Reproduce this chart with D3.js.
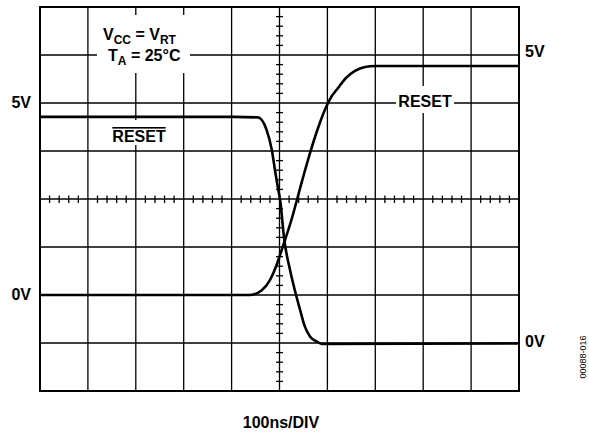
<!DOCTYPE html>
<html>
<head>
<meta charset="utf-8">
<script src="https://cdn.jsdelivr.net/npm/d3@7"></script>
<style>
  body { margin: 0; background: #fff; }
  svg { display: block; }
  text { font-family: "Liberation Sans", Arial, sans-serif; font-weight: bold; fill: #000; }
</style>
</head>
<body>
<div id="root"></div>
<script>
// time in ns (100ns/DIV, centre of screen = 0), level in screen divisions
const fallTime  = [-500, -97, -45, -27, -16, -9.4, -2.5, 1, 10, 22, 32, 43, 53, 64, 78, 89, 500];
const fallLevel = [1.71, 1.71, 1.70, 1.44, 1.02, 0.60, 0.19, 0, -0.85, -1.48, -1.90, -2.31, -2.66, -2.87, -2.97, -3.02, -3.01];

const riseTime  = [-500, -62, -37, -20, -6, 1, 11.5, 26.1, 38.6, 51.1, 63.7, 78.3, 92.9, 105.4, 122.1, 138.8, 157.6, 178.5, 199.4, 500];
const riseLevel = [-2.0, -2.0, -1.90, -1.69, -1.375, -1.17, -0.854, -0.396, 0.063, 0.521, 0.958, 1.417, 1.813, 2.083, 2.313, 2.521, 2.667, 2.75, 2.771, 2.771];

const xDivs = d3.range(-500, 501, 100);
const yDivs = d3.range(-4, 5, 1);

const width = 589, height = 436;
const margin = {top: 7, right: 70, bottom: 45, left: 40};

const svg = d3.select("#root").append("svg")
    .attr("width", width)
    .attr("height", height);

const x = d3.scaleLinear().domain([-500, 500]).range([margin.left, width - margin.right]);
const y = d3.scaleLinear().domain([-4, 4]).range([height - margin.bottom, margin.top]);

// grid
const grid = svg.append("g").attr("stroke", "#000").attr("stroke-width", 1.3);
grid.selectAll("line.v").data(xDivs.slice(1, -1)).enter().append("line")
    .attr("x1", d => x(d)).attr("x2", d => x(d))
    .attr("y1", y(4)).attr("y2", y(-4));
grid.selectAll("line.h").data(yDivs.slice(1, -1)).enter().append("line")
    .attr("y1", d => y(d)).attr("y2", d => y(d))
    .attr("x1", x(-500)).attr("x2", x(500));

// minor ticks on centre axes (5 per division)
const xMinor = d3.range(-500, 500.1, 20).filter(d => d % 100 !== 0);
const yMinor = d3.range(-4, 4.01, 0.2).filter(d => Math.abs(d - Math.round(d)) > 0.01);
grid.selectAll("line.mx").data(xMinor).enter().append("line")
    .attr("x1", d => x(d)).attr("x2", d => x(d))
    .attr("y1", y(0) - 3.5).attr("y2", y(0) + 4);
grid.selectAll("line.my").data(yMinor).enter().append("line")
    .attr("y1", d => y(d)).attr("y2", d => y(d))
    .attr("x1", x(0) - 3.5).attr("x2", x(0) + 3.5);

// white boxes behind in-plot labels
const boxes = [[97, 15, 93, 58], [110, 120, 58, 25], [396, 86, 58, 27]];
svg.selectAll("rect.bg").data(boxes).enter().append("rect")
    .attr("x", d => d[0]).attr("y", d => d[1])
    .attr("width", d => d[2]).attr("height", d => d[3])
    .attr("fill", "#fff");

// frame
svg.append("rect")
    .attr("x", x(-500)).attr("y", y(4))
    .attr("width", x(500) - x(-500)).attr("height", y(-4) - y(4))
    .attr("fill", "none").attr("stroke", "#000").attr("stroke-width", 2);

// traces
const line = d3.line().x(d => x(d[0])).y(d => y(d[1])).curve(d3.curveMonotoneX);
svg.append("path")
    .datum(fallTime.map((t, i) => [t, fallLevel[i]]))
    .attr("d", line).attr("fill", "none").attr("stroke", "#000").attr("stroke-width", 2.6);
svg.append("path")
    .datum(riseTime.map((t, i) => [t, riseLevel[i]]))
    .attr("d", line).attr("fill", "none").attr("stroke", "#000").attr("stroke-width", 2.6);

// text
const fs = 16, sub = 12;
const t1 = svg.append("text").attr("x", 103).attr("y", 40).attr("font-size", fs);
t1.append("tspan").text("V");
t1.append("tspan").attr("dy", 4).attr("font-size", sub).text("CC");
t1.append("tspan").attr("dy", -4).text(" = V");
t1.append("tspan").attr("dy", 4).attr("font-size", sub).text("RT");

const t2 = svg.append("text").attr("x", 108).attr("y", 61).attr("font-size", fs);
t2.append("tspan").text("T");
t2.append("tspan").attr("dy", 4).attr("font-size", sub).text("A");
t2.append("tspan").attr("dy", -4).text(" = 25°C");

svg.append("text").attr("x", 139).attr("y", 142).attr("font-size", fs)
    .attr("text-anchor", "middle").attr("text-decoration", "overline").text("RESET");
svg.append("text").attr("x", 425).attr("y", 107).attr("font-size", fs)
    .attr("text-anchor", "middle").text("RESET");

svg.append("text").attr("x", 31).attr("y", 108).attr("font-size", fs).attr("text-anchor", "end").text("5V");
svg.append("text").attr("x", 31).attr("y", 300).attr("font-size", fs).attr("text-anchor", "end").text("0V");
svg.append("text").attr("x", 525).attr("y", 57).attr("font-size", fs).text("5V");
svg.append("text").attr("x", 525).attr("y", 347).attr("font-size", fs).text("0V");

svg.append("text").attr("x", 281).attr("y", 428).attr("font-size", fs)
    .attr("text-anchor", "middle").text("100ns/DIV");

svg.append("text")
    .attr("transform", "translate(586,357) rotate(-90)")
    .attr("text-anchor", "middle")
    .attr("font-size", 9)
    .style("font-family", "'Liberation Sans Narrow', 'Liberation Sans', Arial, sans-serif")
    .style("font-weight", "normal")
    .text("00088-016");
</script>
</body>
</html>
